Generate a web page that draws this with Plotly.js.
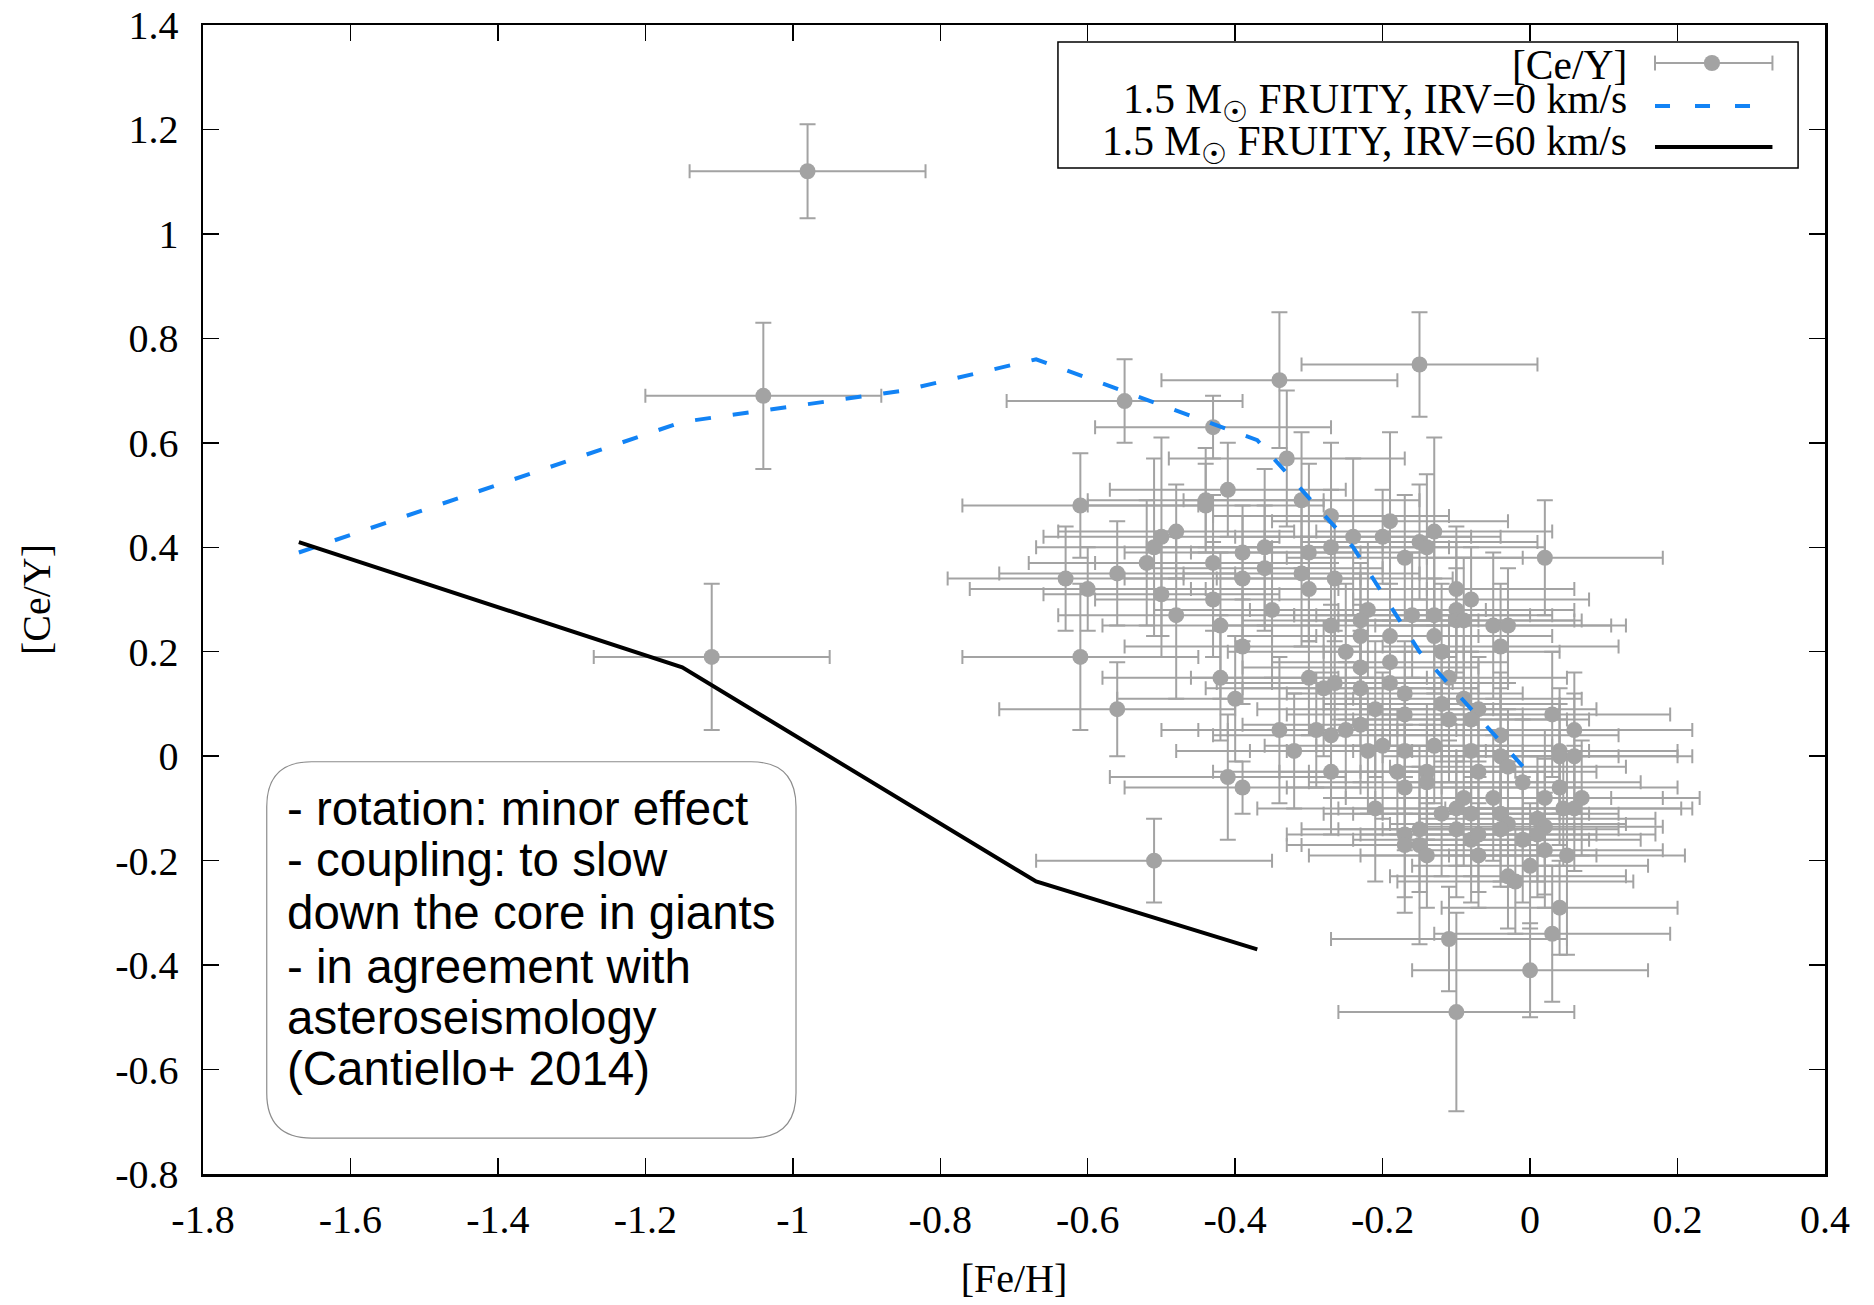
<!DOCTYPE html>
<html><head><meta charset="utf-8">
<script src="https://cdn.plot.ly/plotly-3.0.1.min.js"></script>
<style>html,body{margin:0;padding:0;background:#fff}#chart{width:1874px;height:1305px}</style>
</head><body><div id="chart"></div>
<script>
// ---- observed stars: [Fe/H], [Ce/Y] and their uncertainties ----
const feh = [
 -0.55,-0.43,-0.34,-0.33,-0.61,-0.44,-0.44,-0.41,-0.31,-0.27,
 -0.48,-0.50,-0.51,-0.52,-0.39,-0.36,-0.36,-0.30,-0.27,-0.43,
 -0.39,-0.31,-0.30,-0.265,-0.63,-0.60,-0.56,-0.50,-0.48,-0.43,
 -0.42,-0.35,-0.39,-0.27,-0.61,-0.56,-0.42,-0.40,-0.30,-0.28,
 -0.265,-0.34,-0.29,-0.27,-0.32,-0.27,-0.41,-0.39,-0.51,-0.15,
 0.02,-0.19,-0.24,-0.20,-0.13,-0.15,-0.14,-0.17,-0.10,-0.08,
 -0.22,-0.23,-0.23,-0.19,-0.16,-0.13,-0.13,-0.10,-0.10,-0.09,
 -0.05,-0.03,-0.04,-0.25,-0.23,-0.19,-0.12,-0.11,-0.23,-0.19,
 -0.17,-0.21,-0.17,-0.12,-0.09,-0.07,-0.08,-0.11,0.03,0.06,
 -0.04,-0.25,-0.23,-0.22,-0.20,-0.17,-0.13,-0.08,-0.04,-0.03,
 0.04,0.04,0.06,-0.18,-0.14,-0.14,-0.07,-0.01,0.04,-0.17,
 0.02,0.07,-0.05,-0.09,-0.21,-0.12,-0.10,-0.08,-0.04,-0.03,
 -0.04,0.01,0.02,0.01,0.045,0.06,-0.10,-0.08,-0.07,-0.07,
 -0.17,-0.17,-0.15,-0.15,-0.14,-0.01,0.02,0.05,0.00,-0.03,
 -0.02,0.04,0.03,-0.11,0.00,-0.10,-0.98,-1.04,-1.11
];
const cey = [
 0.68,0.63,0.72,0.57,0.48,0.49,0.48,0.51,0.49,0.46,
 0.43,0.42,0.40,0.37,0.39,0.40,0.36,0.39,0.40,0.37,
 0.34,0.35,0.32,0.34,0.34,0.32,0.35,0.31,0.27,0.30,
 0.25,0.28,0.21,0.25,0.19,0.09,0.15,0.11,0.15,0.13,
 0.14,0.05,0.05,0.04,0.01,-0.03,-0.04,-0.06,-0.20,0.75,
 0.38,0.45,0.42,0.42,0.43,0.41,0.40,0.38,0.32,0.30,
 0.28,0.26,0.23,0.23,0.27,0.27,0.23,0.28,0.26,0.26,
 0.25,0.25,0.21,0.20,0.17,0.18,0.20,0.15,0.13,0.14,
 0.12,0.09,0.08,0.10,0.11,0.09,0.07,0.07,0.08,0.05,
 0.04,0.05,0.06,0.01,0.02,0.01,0.02,0.01,0.00,-0.02,
 0.01,0.00,0.00,-0.03,-0.03,-0.05,-0.03,-0.05,-0.06,-0.06,
 -0.08,-0.08,-0.08,-0.08,-0.10,-0.11,-0.10,-0.11,-0.11,-0.13,
 -0.14,-0.12,-0.135,-0.15,-0.10,-0.10,-0.14,-0.16,-0.15,-0.19,
 -0.15,-0.17,-0.14,-0.17,-0.19,-0.16,-0.18,-0.19,-0.21,-0.23,
 -0.24,-0.29,-0.34,-0.35,-0.41,-0.49,1.12,0.69,0.19
];
const ceyErr = [
 0.08,0.06,0.13,0.13,0.10,0.10,0.08,0.09,0.13,0.14,
 0.09,0.19,0.17,0.12,0.09,0.15,0.12,0.17,0.11,0.13,
 0.12,0.14,0.10,0.12,0.10,0.08,0.10,0.12,0.16,0.11,
 0.14,0.13,0.11,0.12,0.14,0.09,0.12,0.12,0.11,0.13,
 0.10,0.14,0.11,0.12,0.11,0.12,0.12,0.05,0.08,0.10,
 0.11,0.17,0.15,0.09,0.18,0.11,0.14,0.12,0.12,0.10,
 0.13,0.11,0.12,0.10,0.12,0.14,0.11,0.13,0.10,0.12,
 0.14,0.11,0.12,0.13,0.12,0.10,0.13,0.12,0.11,0.12,
 0.10,0.13,0.12,0.11,0.12,0.10,0.13,0.12,0.12,0.11,
 0.12,0.13,0.11,0.12,0.14,0.12,0.11,0.12,0.13,0.11,
 0.12,0.10,0.12,0.12,0.13,0.11,0.12,0.12,0.11,0.12,
 0.13,0.11,0.12,0.13,0.14,0.12,0.11,0.12,0.13,0.12,
 0.11,0.12,0.13,0.12,0.11,0.12,0.13,0.12,0.11,0.10,
 0.12,0.13,0.12,0.19,0.10,0.12,0.11,0.19,0.12,0.10,
 0.10,0.09,0.13,0.10,0.09,0.19,0.09,0.14,0.14
];
const fehErr = 0.16;   // [Fe/H] uncertainty, same for every star

// ---- FRUITY 1.5 Msun models ----
const irv0Feh = [-1.67, -1.15, -0.85, -0.67, -0.37, -0.24, -0.15, 0.00];
const irv0Cey = [0.39, 0.64, 0.70, 0.76, 0.605, 0.40, 0.20, -0.035];
const irv60Feh = [-1.67, -1.15, -0.67, -0.37];
const irv60Cey = [0.41, 0.17, -0.24, -0.37];

// ---- ticks and texts ----
const xTickVals = [-1.8,-1.6,-1.4,-1.2,-1,-0.8,-0.6,-0.4,-0.2,0,0.2,0.4];
const xTickText = ['-1.8','-1.6','-1.4','-1.2','-1','-0.8','-0.6','-0.4','-0.2','0','0.2','0.4'];
const yTickVals = [-0.8,-0.6,-0.4,-0.2,0,0.2,0.4,0.6,0.8,1,1.2,1.4];
const yTickText = ['-0.8','-0.6','-0.4','-0.2','0','0.2','0.4','0.6','0.8','1','1.2','1.4'];
const legendLabels = ['[Ce/Y]', '1.5 M<sub>☉</sub> FRUITY, IRV=0 km/s', '1.5 M<sub>☉</sub> FRUITY, IRV=60 km/s'];
const noteLines = ['- rotation: minor effect', '- coupling: to slow', 'down the core in giants',
                   '- in agreement with', 'asteroseismology', '(Cantiello+ 2014)'];

const SERIF = '"Liberation Serif", "Times New Roman", Times, serif';
const SANS = '"Liberation Sans", Arial, Helvetica, sans-serif';
const GRAY = '#a3a3a3';
const BLUE = '#1283f5';

const traces = [
 { type:'scatter', mode:'markers', x:feh, y:cey, name:legendLabels[0],
   marker:{color:GRAY, size:16},
   error_x:{type:'constant', value:fehErr, color:GRAY, thickness:2, width:7},
   error_y:{type:'data', array:ceyErr, color:GRAY, thickness:2, width:8} },
 { type:'scatter', mode:'lines', x:irv0Feh, y:irv0Cey, name:legendLabels[1],
   line:{color:BLUE, width:4, dash:'16px,22px'} },
 { type:'scatter', mode:'lines', x:irv60Feh, y:irv60Cey, name:legendLabels[2],
   line:{color:'#000', width:4} }
];

// paper-coordinate helpers for the decorations
const x0b=0.0393, x1b=0.3656, y0b=0.0313, y1b=0.3588, rx=0.0277, ry=0.0392;
const boxPath = `M ${x0b+rx},${y1b} L ${x1b-rx},${y1b} Q ${x1b},${y1b} ${x1b},${y1b-ry} L ${x1b},${y0b+ry} Q ${x1b},${y0b} ${x1b-rx},${y0b} L ${x0b+rx},${y0b} Q ${x0b},${y0b} ${x0b},${y0b+ry} L ${x0b},${y1b-ry} Q ${x0b},${y1b} ${x0b+rx},${y1b} Z`;

const legRowsSym = [0.9669, 0.9295, 0.8938];
const legRowsTxt = [0.9652, 0.9330, 0.8964];
const symX0 = 0.8952, symX1 = 0.9676, symMid = 0.9303;

const shapes = [
 {type:'path', xref:'paper', yref:'paper', path:boxPath, line:{color:'#8c8c8c', width:1.2}, fillcolor:'rgba(255,255,255,0)', layer:'above'},
 {type:'rect', xref:'paper', yref:'paper', x0:0.5271, x1:0.9834, y0:0.8755, y1:0.9852, line:{color:'#000', width:1.5}, fillcolor:'#fff', layer:'above'},
 // legend symbol: error bar with dot
 {type:'line', xref:'paper', yref:'paper', x0:symX0, x1:symX1, y0:legRowsSym[0], y1:legRowsSym[0], line:{color:GRAY, width:2}, layer:'above'},
 {type:'line', xref:'paper', yref:'paper', x0:symX0, x1:symX0, y0:legRowsSym[0]-0.0065, y1:legRowsSym[0]+0.0065, line:{color:GRAY, width:2}, layer:'above'},
 {type:'line', xref:'paper', yref:'paper', x0:symX1, x1:symX1, y0:legRowsSym[0]-0.0065, y1:legRowsSym[0]+0.0065, line:{color:GRAY, width:2}, layer:'above'},
 {type:'circle', xref:'paper', yref:'paper', x0:symMid-0.0050, x1:symMid+0.0050, y0:legRowsSym[0]-0.0070, y1:legRowsSym[0]+0.0070, line:{width:0}, fillcolor:GRAY, layer:'above'},
 // legend symbol: dashed blue
 {type:'line', xref:'paper', yref:'paper', x0:symX0, x1:0.9543, y0:legRowsSym[1], y1:legRowsSym[1], line:{color:BLUE, width:4, dash:'15px,25px'}, layer:'above'},
 // legend symbol: solid black
 {type:'line', xref:'paper', yref:'paper', x0:symX0, x1:symX1, y0:legRowsSym[2], y1:legRowsSym[2], line:{color:'#000', width:4}, layer:'above'}
];

const annotations = [];
legendLabels.forEach((t,i)=>annotations.push({xref:'paper', yref:'paper', x:0.8792, y:legRowsTxt[i], xanchor:'right', yanchor:'middle', text:t, showarrow:false, font:{family:SERIF, size:41.5, color:'#000'}}));
const noteY = [0.3185, 0.2733, 0.2272, 0.1810, 0.1358, 0.0914];
noteLines.forEach((t,i)=>annotations.push({xref:'paper', yref:'paper', x:0.0506, y:noteY[i], xanchor:'left', yanchor:'middle', text:t, showarrow:false, font:{family:SANS, size:47.5, color:'#000'}}));

const axisCommon = {ticks:'inside', ticklen:16, tickwidth:1.5, tickcolor:'#000', showline:true, linecolor:'#000', linewidth:2.5,
  mirror:'ticks', showgrid:false, zeroline:false, tickfont:{family:SERIF, size:40, color:'#000'}};

const layout = {
  width:1874, height:1305,
  margin:{l:203, r:49, t:25, b:131},
  paper_bgcolor:'#fff', plot_bgcolor:'#fff',
  showlegend:false,
  font:{family:SERIF, size:40, color:'#000'},
  xaxis:Object.assign({}, axisCommon, {range:[-1.8,0.4], tickmode:'array', tickvals:xTickVals, ticktext:xTickText, ticklabelstandoff:8,
     title:{text:'[Fe/H]', font:{family:SERIF, size:40, color:'#000'}, standoff:24}}),
  yaxis:Object.assign({}, axisCommon, {range:[-0.8,1.4], tickmode:'array', tickvals:yTickVals, ticktext:yTickText, ticklabelstandoff:14,
     title:{text:'[Ce/Y]', font:{family:SERIF, size:40, color:'#000'}, standoff:52}}),
  shapes:shapes,
  annotations:annotations
};

Plotly.newPlot('chart', traces, layout, {displayModeBar:false, staticPlot:true});
</script>
</body></html>
